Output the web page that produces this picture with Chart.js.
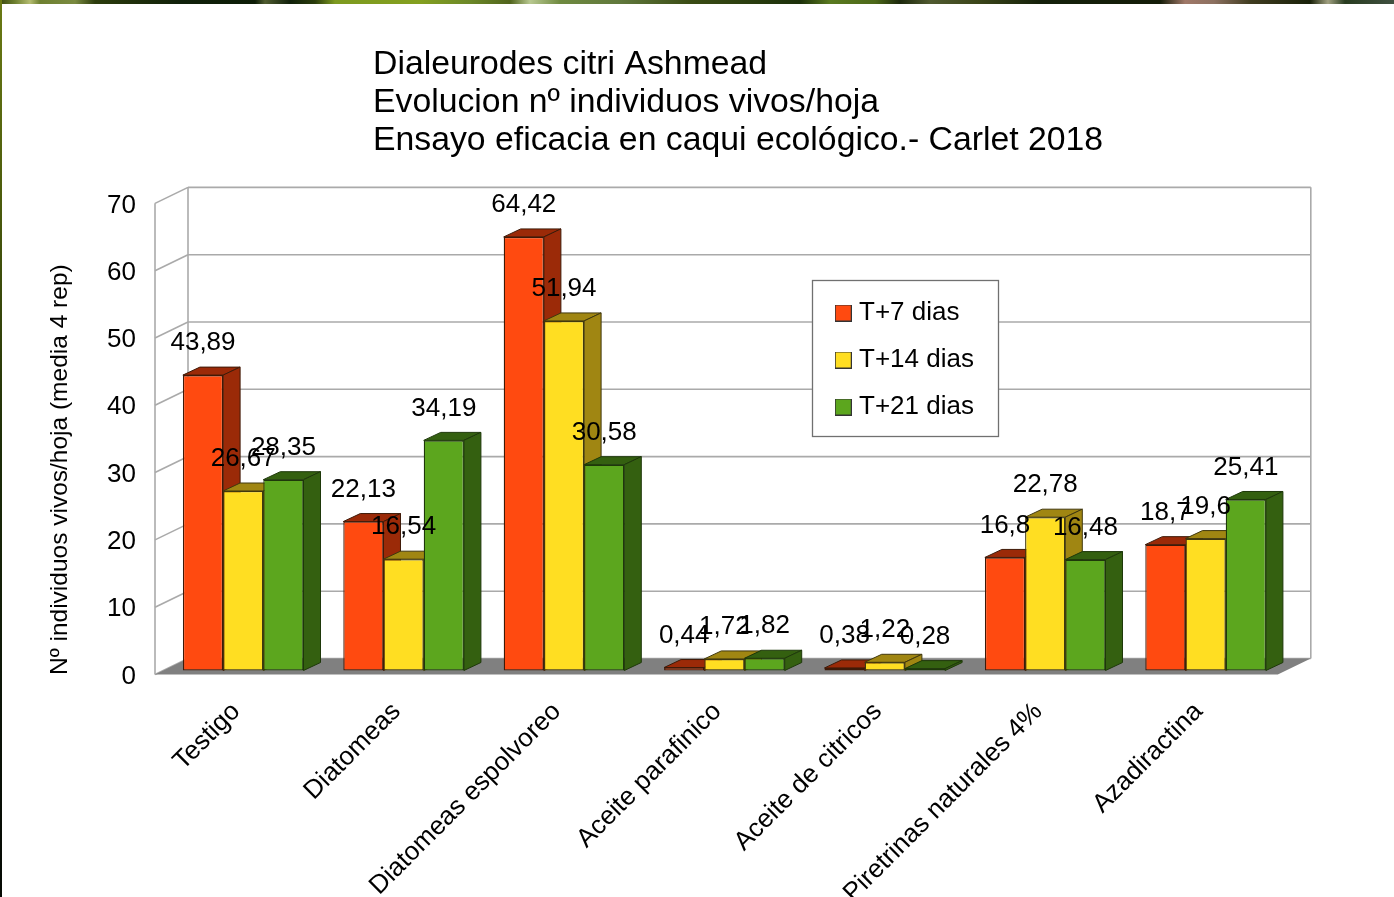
<!DOCTYPE html>
<html>
<head>
<meta charset="utf-8">
<title>Dialeurodes citri Ashmead</title>
<script src="https://cdn.jsdelivr.net/npm/chart.js@4"></script>
<style>
html, body { margin: 0; padding: 0; background: #fff; overflow: hidden; }
#wrap { position: relative; width: 1394px; height: 897px; }
#topStrip { position: absolute; left: 0; top: 0; width: 1394px; height: 4px;
  background: linear-gradient(90deg, #3c4a10 0, #6e8030 15px, #b4bc70 30px, #6e8030 40px, #7a8a40 75px, #2c3c0c 95px, #10200a 180px, #0c1c06 255px, #505c30 265px, #10200a 290px, #2a3c0c 315px, #7d9a20 335px, #84a020 420px, #6c8828 470px, #50641c 510px, #b8c890 530px, #6f8a40 560px, #60783c 620px, #3a4c14 690px, #1c300a 800px, #5a7a20 830px, #4c6818 875px, #1c280c 900px, #505a30 930px, #3a4418 980px, #14200a 1040px, #141c08 1160px, #a07868 1185px, #8c7060 1214px, #403c20 1250px, #182008 1310px, #a0a080 1328px, #283c20 1345px, #405040 1394px); }
#leftStrip { position: absolute; left: 0; top: 0; width: 2px; height: 897px;
  background: linear-gradient(180deg, #6a7a14, #4c5c0c 200px, #1c2c08 450px, #0c1408 700px, #060a04 897px); }
canvas { position: absolute; left: 0; top: 0; }
</style>
</head>
<body>
<div id="wrap">
  <canvas id="chart" width="1394" height="897"></canvas>
  <div id="topStrip"></div>
  <div id="leftStrip"></div>
</div>
<script>
const categories = ['Testigo', 'Diatomeas', 'Diatomeas espolvoreo', 'Aceite parafinico', 'Aceite de citricos', 'Piretrinas naturales 4%', 'Azadiractina'];
const seriesNames = ['T+7 dias', 'T+14 dias', 'T+21 dias'];
const t7 = [43.89, 22.13, 64.42, 0.44, 0.38, 16.8, 18.7];
const t14 = [26.67, 16.54, 51.94, 1.72, 1.22, 22.78, 19.6];
const t21 = [28.35, 34.19, 30.58, 1.82, 0.28, 16.48, 25.41];
const yTicks = [0, 10, 20, 30, 40, 50, 60, 70];
const titleLines = ['Dialeurodes citri Ashmead', 'Evolucion nº individuos vivos/hoja', 'Ensayo eficacia en caqui ecológico.- Carlet 2018'];
const yTitle = 'Nº individuos vivos/hoja (media 4 rep)';

const fronts = ['#ff4a10', '#ffde22', '#5ca61e'];
const shades = ['#9b2a08', '#a08612', '#346010'];
const edges = ['#3e1a08', '#40380e', '#1e380a'];
const FONT = '"Liberation Sans", Arial, sans-serif';
const labelSize = 26;

// depth of one bar, and how far the walls sit from the bar plane
const depth = { dx: 17, dy: -8 };
const wallFront = { dx: -8, dy: 4 };
const wallBack = { dx: 25, dy: -12 };

function swatch(color) {
    const c = document.createElement('canvas');
    c.width = 17;
    c.height = 17;
    const g = c.getContext('2d');
    g.fillStyle = color;
    g.fillRect(0, 0, 17, 17);
    g.strokeStyle = '#333';
    g.lineWidth = 1;
    g.strokeRect(0.5, 0.5, 16, 16);
    return c;
}

function poly(ctx, pts, fill, stroke) {
    ctx.beginPath();
    pts.forEach((p, i) => i ? ctx.lineTo(p[0], p[1]) : ctx.moveTo(p[0], p[1]));
    ctx.closePath();
    if (fill) { ctx.fillStyle = fill; ctx.fill(); }
    if (stroke) { ctx.strokeStyle = stroke; ctx.lineWidth = 1; ctx.stroke(); }
}

function line(ctx, x1, y1, x2, y2) {
    ctx.beginPath();
    ctx.moveTo(x1, y1);
    ctx.lineTo(x2, y2);
    ctx.stroke();
}

// walls, floor and legend frame, all placed from the scales
const wallsPlugin = {
    id: 'walls',
    afterLayout(chart) {
        chart.titleBlock.left = 373;
        chart.titleBlock.right = 1394;
        chart.scales.y.bottom += 4.5;
        const lg = chart.legend;
        lg.left = 819.5;
        lg.top = 279;
        lg.right = lg.left + 186;
        lg.bottom = lg.top + 300;
    },
    beforeDraw(chart) {
        const { ctx, chartArea: a, scales: { y } } = chart;
        const top = y.getPixelForValue(yTicks[yTicks.length - 1]);
        const zero = y.getPixelForValue(0);
        ctx.save();
        ctx.strokeStyle = '#aaa';
        ctx.lineWidth = 1.6;
        yTicks.forEach(v => {
            const p = y.getPixelForValue(v);
            line(ctx, a.left + wallFront.dx, p + wallFront.dy, a.left + wallBack.dx, p + wallBack.dy);
            line(ctx, a.left + wallBack.dx, p + wallBack.dy, a.right + wallBack.dx, p + wallBack.dy);
        });
        line(ctx, a.left + wallFront.dx, top + wallFront.dy, a.left + wallFront.dx, zero + wallFront.dy);
        line(ctx, a.left + wallBack.dx, top + wallBack.dy, a.left + wallBack.dx, zero + wallBack.dy);
        line(ctx, a.right + wallBack.dx, top + wallBack.dy, a.right + wallBack.dx, zero + wallBack.dy);
        poly(ctx, [
            [a.left + wallFront.dx, zero + wallFront.dy],
            [a.left + wallBack.dx, zero + wallBack.dy],
            [a.right + wallBack.dx, zero + wallBack.dy],
            [a.right + wallFront.dx, zero + wallFront.dy]
        ], '#808080');
        // legend frame
        ctx.fillStyle = '#fff';
        ctx.fillRect(812.5, 280.5, 186, 156);
        ctx.strokeStyle = '#707070';
        ctx.lineWidth = 1.3;
        ctx.strokeRect(812.5, 280.5, 186, 156);
        ctx.restore();
    }
};

// the bars go left to right so each one covers the side of its neighbour
const bars3dPlugin = {
    id: 'bars3d',
    beforeDatasetDraw() { return false; },
    afterDatasetsDraw(chart) {
        const { ctx } = chart;
        const metas = seriesNames.map((_, i) => chart.getDatasetMeta(i));
        categories.forEach((_, c) => {
            metas.forEach((meta, s) => {
                const bar = meta.data[c];
                const l = bar.x - bar.width / 2, r = bar.x + bar.width / 2;
                const t = bar.y, b = bar.base;
                ctx.save();
                ctx.lineJoin = 'round';
                poly(ctx, [[l, t], [l + depth.dx, t + depth.dy], [r + depth.dx, t + depth.dy], [r, t]], shades[s], edges[s]);
                poly(ctx, [[r, t], [r + depth.dx, t + depth.dy], [r + depth.dx, b + depth.dy], [r, b]], shades[s], edges[s]);
                ctx.restore();
                bar.draw(ctx);
            });
        });
        // value labels go on top of everything
        ctx.save();
        ctx.font = labelSize + 'px ' + FONT;
        ctx.fillStyle = '#000';
        ctx.textAlign = 'center';
        ctx.textBaseline = 'middle';
        metas.forEach((meta, s) => {
            const values = chart.data.datasets[s].data;
            meta.data.forEach((bar, c) => {
                ctx.fillText(String(values[c]).replace('.', ','), bar.x, bar.y - 32);
            });
        });
        ctx.restore();
    }
};

new Chart(document.getElementById('chart'), {
    type: 'bar',
    data: {
        labels: categories,
        datasets: [t7, t14, t21].map((data, i) => ({
            label: seriesNames[i],
            data: data,
            backgroundColor: fronts[i],
            borderColor: edges[i],
            borderWidth: 1.3,
            borderSkipped: false,
            pointStyle: swatch(fronts[i]),
            categoryPercentage: 0.752,
            barPercentage: 1
        }))
    },
    options: {
        responsive: false,
        animation: false,
        layout: { padding: { left: 0, top: 0, right: 108.2, bottom: 0 } },
        plugins: {
            title: {
                display: true,
                text: titleLines,
                align: 'start',
                color: '#000',
                font: { family: FONT, size: 33.77, weight: 'normal', lineHeight: 1.125 },
                padding: { top: 46, bottom: 39.4 }
            },
            legend: {
                position: 'chartArea',
                align: 'start',
                labels: {
                    usePointStyle: true,
                    pointStyleWidth: 5.5,
                    boxHeight: 17,
                    padding: 21,
                    color: '#000',
                    font: { family: FONT, size: labelSize }
                }
            },
            tooltip: { enabled: false }
        },
        scales: {
            x: {
                afterFit(s) { s.height = 226.5; },
                grid: { display: false },
                border: { display: false },
                ticks: {
                    autoSkip: false,
                    minRotation: 45,
                    maxRotation: 45,
                    padding: 18,
                    labelOffset: -7,
                    color: '#000',
                    font: { family: FONT, size: labelSize }
                }
            },
            y: {
                min: 0,
                max: 70,
                afterFit(s) { s.width = 163; },
                grid: { display: false },
                border: { display: false },
                title: {
                    display: true,
                    text: yTitle,
                    align: 'start',
                    color: '#000',
                    font: { family: FONT, size: 24.5 },
                    padding: { top: 46, bottom: 0 }
                },
                ticks: {
                    stepSize: 10,
                    labelOffset: 6,
                    padding: 19,
                    color: '#000',
                    font: { family: FONT, size: labelSize }
                }
            }
        }
    },
    plugins: [wallsPlugin, bars3dPlugin]
});
</script>
</body>
</html>
